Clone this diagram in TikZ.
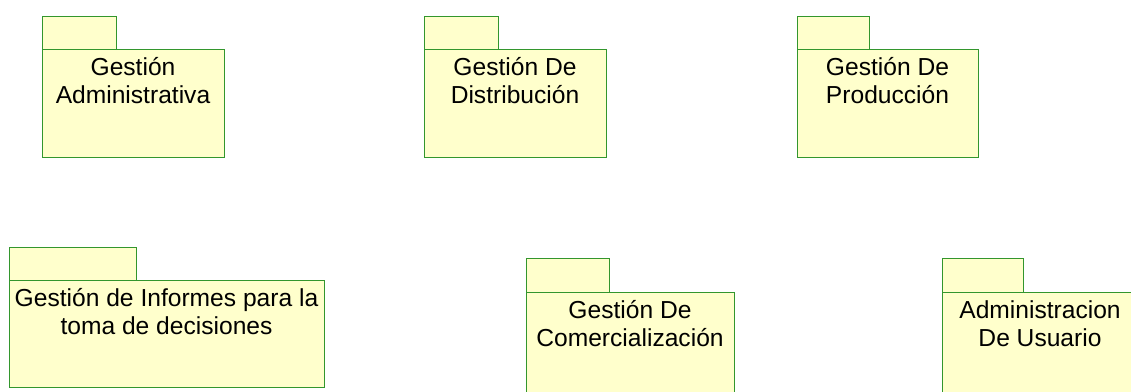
\documentclass[tikz,border=0pt]{standalone}
\usepackage{fontspec}
\setmainfont{Liberation Sans}
\usetikzlibrary{calc}

\definecolor{pkggreen}{RGB}{51,150,45}
\definecolor{pkgfill}{RGB}{255,255,204}
\newcommand{\pkgfont}{\fontsize{24.6}{27.6}\selectfont}

\tikzset{
  pkg/.style={draw=pkggreen, fill=pkgfill, line width=1pt},
  pkglabel/.style={font=\pkgfont, align=center, anchor=north, inner sep=0pt}
}

\begin{document}
\begin{tikzpicture}[x=1pt, y=-1pt]

  % Page size (pixels of the reference)
  \useasboundingbox (0,0) rectangle (1131,391);
  \clip (0,0) rectangle (1131,391);

  % Gestion Administrativa
  \draw[pkg] (42,16) rectangle (116,49);
  \draw[pkg] (42,49) rectangle (224,157);
  \node[pkglabel] (adm) at (133,56) {\strut Gestión\\Administrativa};

  % Gestion De Distribucion
  \draw[pkg] (424,16) rectangle (498,49);
  \draw[pkg] (424,49) rectangle (606,157);
  \node[pkglabel] (dist) at (515,56) {\strut Gestión De\\Distribución};

  % Gestion De Produccion
  \draw[pkg] (797,16) rectangle (869,49);
  \draw[pkg] (797,49) rectangle (978,157);
  \node[pkglabel] (prod) at (887.5,56) {\strut Gestión De\\Producción};

  % Gestion de Informes
  \draw[pkg] (9,247) rectangle (136,280);
  \draw[pkg] (9,280) rectangle (324,387);
  \node[pkglabel] (inf) at (166.5,287) {\strut Gestión de Informes para la\\toma de decisiones};

  % Gestion De Comercializacion (cut at the bottom)
  \draw[pkg] (526,258) rectangle (609,292);
  \draw[pkg] (526,292) rectangle (734,400);
  \node[pkglabel] (com) at (630,299) {\strut Gestión De\\Comercialización};

  % Administracion De Usuario (cut at right and bottom)
  \draw[pkg] (942,258) rectangle (1023,292);
  \draw[pkg] (942,292) rectangle (1138,400);
  \node[pkglabel] (usr) at (1040,299) {\strut Administracion\\De Usuario};

\end{tikzpicture}
\end{document}
